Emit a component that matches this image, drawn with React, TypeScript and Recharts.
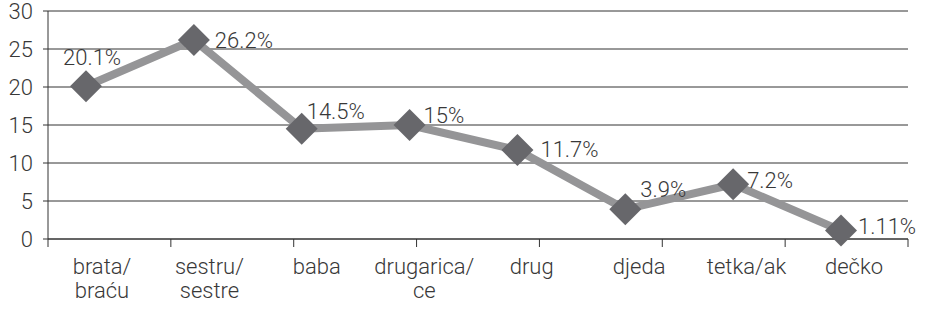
import { CartesianGrid, Line, LineChart, XAxis, YAxis } from "recharts";

const CATEGORIES = ["brata/ braću", "sestru/ sestre", "baba", "drugarica/ ce", "drug", "djeda", "tetka/ak", "dečko"];
const PERCENTS = [20.1, 26.2, 14.5, 15, 11.7, 3.9, 7.2, 1.11];
const Y_TICKS = [0, 5, 10, 15, 20, 25, 30];
const BOUNDARY_TICKS = [0, 1, 2, 3, 4, 5, 6, 7, 8];

// where each data label sits relative to its marker (Excel placed them by hand)
const LABEL_OFFSETS = [
  { dx: -23, dy: -21 },
  { dx: 21, dy: 8 },
  { dx: 5, dy: -10 },
  { dx: 14, dy: -2 },
  { dx: 23, dy: 7 },
  { dx: 15, dy: -12 },
  { dx: 14, dy: 4 },
  { dx: 17, dy: 3 },
];

const data = CATEGORIES.map((name, i) => ({ name, value: PERCENTS[i] }));

const FONT = "Roboto, 'Liberation Sans', sans-serif";
const TEXT = "#383838";
const FS = 22;

function Diamond(props: any) {
  const { cx, cy, index } = props;
  if (cx == null || cy == null) return null;
  const r = 16;
  return (
    <polygon
      key={`d-${index}`}
      points={`${cx},${cy - r} ${cx + r},${cy} ${cx},${cy + r} ${cx - r},${cy}`}
      fill="#67676b"
    />
  );
}

function PercentLabel(props: any) {
  const { x, y, index, value } = props;
  const off = LABEL_OFFSETS[index] ?? { dx: 14, dy: 0 };
  return (
    <text x={x + off.dx} y={y + off.dy} fontSize={FS} fontWeight={300} fill={TEXT} fontFamily={FONT}>
      {`${value}%`}
    </text>
  );
}

function CategoryTick(props: any) {
  const { x, y, payload } = props;
  const lines = String(payload.value).split(" ");
  return (
    <text x={x} y={y + 34} textAnchor="middle" fontSize={FS} fontWeight={300} fill={TEXT} fontFamily={FONT}>
      {lines.map((l, i) => (
        <tspan key={i} x={x} dy={i === 0 ? 0 : 24}>
          {l}
        </tspan>
      ))}
    </text>
  );
}

export default function App() {
  return (
    <div style={{ position: "absolute", left: 0, top: 0, background: "#fff" }}>
      <LineChart width={932} height={311} data={data} margin={{ top: 11, right: 24, left: 0, bottom: 0 }}>
        <CartesianGrid vertical={false} stroke="#333" />
        <YAxis
          domain={[0, 30]}
          ticks={Y_TICKS}
          width={48}
          stroke="#333"
          tickSize={5}
          tickMargin={10}
          interval={0}
          tick={{ fontSize: FS, fontWeight: 300, fill: TEXT, fontFamily: FONT }}
        />
        <XAxis
          xAxisId="frame"
          type="number"
          domain={[0, 8]}
          ticks={BOUNDARY_TICKS}
          allowDataOverflow
          interval={0}
          height={1}
          stroke="#333"
          tickSize={8}
          tickFormatter={() => ""}
        />
        <XAxis
          xAxisId="labels"
          dataKey="name"
          padding={{ left: 54, right: 54 }}
          axisLine={false}
          tickLine={false}
          tickSize={0}
          tickMargin={0}
          interval={0}
          height={71}
          tick={<CategoryTick />}
        />
        <XAxis xAxisId="points" dataKey="name" hide padding={{ left: 38, right: 67 }} />
        <Line
          xAxisId="points"
          dataKey="value"
          stroke="#959597"
          strokeWidth={8}
          dot={<Diamond />}
          activeDot={false}
          label={<PercentLabel />}
          isAnimationActive={false}
        />
      </LineChart>
    </div>
  );
}
